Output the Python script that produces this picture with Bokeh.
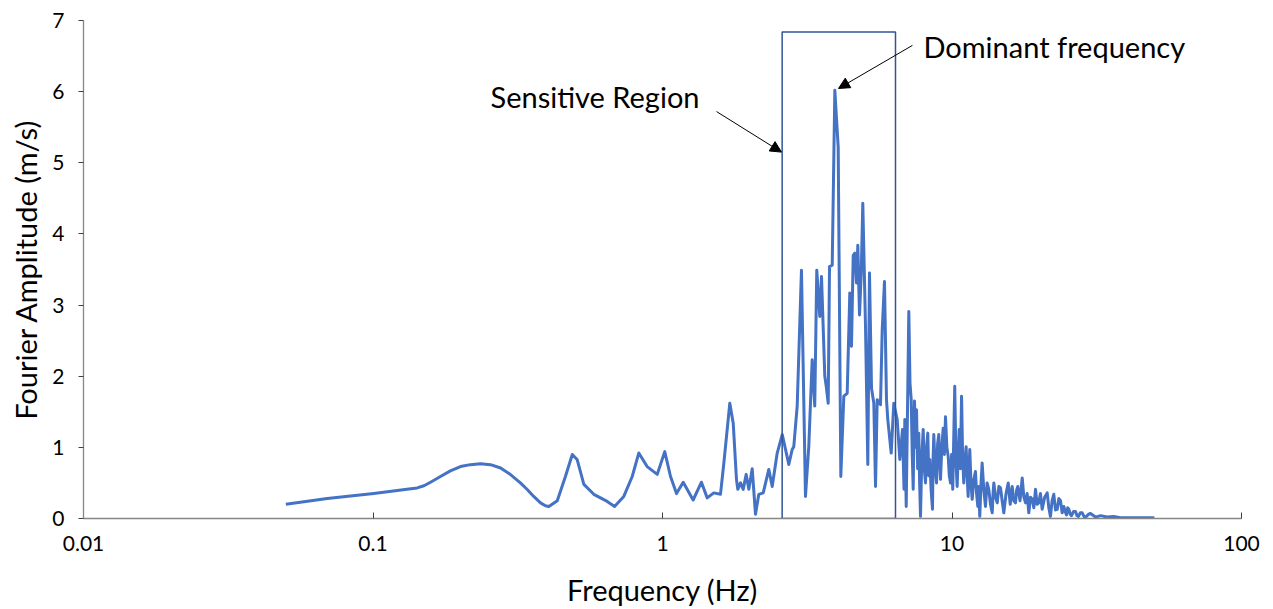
from bokeh.plotting import figure
from bokeh.models import (Range1d, FixedTicker, CustomJSTickFormatter, Label, Arrow,
                          NormalHead, ColumnDataSource)
from bokeh.embed import file_html
from bokeh.resources import INLINE

# ---- data ----
freq_hz = [0.050, 0.0695, 0.1006, 0.131, 0.1421, 0.150, 0.158, 0.171, 0.185, 0.2005,
           0.217, 0.235, 0.2546, 0.276, 0.2985, 0.323, 0.341, 0.359, 0.379, 0.394,
           0.405, 0.433, 0.462, 0.488, 0.507, 0.535, 0.579, 0.644,
           0.683, 0.735, 0.786, 0.828, 0.885, 0.959, 1.018, 1.066, 1.118, 1.179,
           1.276, 1.363, 1.427, 1.504, 1.586, 1.629, 1.708, 1.755, 1.801, 1.820,
           1.860, 1.900, 1.946, 1.987, 2.041, 2.095, 2.151, 2.228, 2.329, 2.393,
           2.490, 2.592, 2.731, 2.805, 2.841, 2.919, 3.020, 3.118, 3.201, 3.289,
           3.357, 3.411, 3.494, 3.542, 3.636, 3.677, 3.736, 3.775, 3.857, 3.938,
           4.045, 4.130, 4.230, 4.345, 4.436, 4.496, 4.558, 4.616, 4.679, 4.728,
           4.792, 4.858, 4.919, 5.026, 5.119, 5.188, 5.272, 5.370, 5.443, 5.516,
           5.662, 5.740, 5.845, 5.939, 6.001, 6.166, 6.294, 6.467, 6.603, 6.745,
           6.827, 6.871, 6.948,
           7.093, 7.16, 7.230, 7.29, 7.345, 7.38, 7.422, 7.48, 7.541, 7.61,
           7.679, 7.73, 7.784, 7.87, 7.953, 8.02, 8.100, 8.17, 8.249, 8.31,
           8.381, 8.47, 8.563, 8.60, 8.652, 8.75, 8.841, 8.92, 9.004, 9.06,
           9.127, 9.22, 9.325, 9.41, 9.496, 9.60, 9.703, 9.79, 9.881, 9.97,
           10.06, 10.22, 10.32, 10.42, 10.50, 10.59, 10.69, 10.79, 10.88, 10.98,
           11.08, 11.19, 11.28, 11.37, 11.45, 11.52, 11.63, 11.74, 11.90, 12.05,
           12.16, 12.28, 12.37, 12.47, 12.60, 12.71, 12.88, 13.05, 13.22, 13.40,
           13.58, 13.77, 13.86, 13.95, 14.14, 14.33, 14.52, 14.71, 14.90, 15.10,
           15.37, 15.64, 15.89, 16.14, 16.35, 16.57, 16.72, 16.88, 17.18, 17.48,
           17.71, 17.95, 18.18, 18.42, 18.67, 18.92, 19.17, 19.43, 19.68, 19.94,
           20.21, 20.49, 20.90, 21.32, 21.60, 21.88, 22.17, 22.47, 22.78, 23.09,
           23.40, 23.70, 24.02, 24.33, 24.60, 24.86, 25.10, 25.32, 25.60, 25.87,
           26.30, 26.71, 27.03, 27.35, 27.76, 28.17, 28.66, 29.15, 29.62, 30.09,
           31.31, 32.58, 34.36, 36.13, 38.19, 50.0]
amplitude = [0.20, 0.28, 0.35, 0.41, 0.43, 0.46, 0.51, 0.59, 0.67, 0.73,
             0.757, 0.77, 0.757, 0.71, 0.617, 0.50, 0.407, 0.31, 0.22, 0.18,
             0.17, 0.25, 0.59, 0.90, 0.83, 0.48, 0.34, 0.24,
             0.17, 0.31, 0.59, 0.92, 0.73, 0.62, 0.94, 0.59, 0.35, 0.51,
             0.26, 0.51, 0.29, 0.36, 0.34, 0.78, 1.62, 1.34, 0.55, 0.41,
             0.50, 0.41, 0.62, 0.41, 0.70, 0.06, 0.34, 0.36, 0.69, 0.45,
             0.92, 1.18, 0.76, 0.97, 1.01, 1.58, 3.49, 0.31, 1.01, 2.23,
             1.58, 3.49, 2.84, 3.40, 2.00, 1.86, 1.62, 3.54, 3.56, 6.02,
             5.22, 0.59, 1.72, 1.76, 3.17, 2.42, 3.70, 3.73, 3.31, 3.84,
             2.86, 3.45, 4.43, 2.70, 0.76, 3.45, 1.83, 1.62, 0.45, 1.67,
             1.60, 2.65, 3.33, 1.67, 1.39, 0.92, 1.62, 1.39, 0.83, 1.25,
             0.41, 1.39, 0.17,
             2.91, 1.90, 1.67, 0.90, 0.41, 1.10, 1.65, 1.00, 1.53, 0.70,
             1.20, 0.50, 0.03, 0.90, 1.25, 0.70, 0.50, 1.00, 1.20, 0.60,
             0.83, 0.40, 0.13, 0.80, 1.18, 0.70, 0.50, 1.05, 1.18, 0.80,
             0.55, 1.00, 1.27, 0.90, 1.43, 1.00, 0.87, 0.60, 0.50, 0.90,
             0.41, 1.86, 0.80, 0.45, 0.90, 1.25, 0.70, 1.72, 0.90, 0.50,
             0.80, 1.01, 0.60, 0.31, 0.70, 0.97, 0.50, 0.27, 0.55, 0.66,
             0.35, 0.17, 0.45, 0.03, 0.50, 0.78, 0.40, 0.17, 0.50, 0.41,
             0.20, 0.08, 0.35, 0.50, 0.30, 0.22, 0.45, 0.43, 0.25, 0.08,
             0.35, 0.50, 0.20, 0.45, 0.25, 0.22, 0.40, 0.45, 0.25, 0.57,
             0.30, 0.22, 0.35, 0.08, 0.30, 0.27, 0.15, 0.41, 0.20, 0.22,
             0.35, 0.13, 0.30, 0.36, 0.15, 0.03, 0.25, 0.34, 0.12, 0.13,
             0.28, 0.25, 0.08, 0.17, 0.10, 0.05, 0.15, 0.13, 0.06, 0.04,
             0.10, 0.10, 0.04, 0.03, 0.08, 0.08, 0.02, 0.03, 0.06, 0.07,
             0.02, 0.04, 0.02, 0.03, 0.01, 0.01]

x_ticks = [0.01, 0.1, 1, 10, 100]
y_ticks = [0, 1, 2, 3, 4, 5, 6, 7]

# sensitive region box (Hz, m/s)
region_left, region_right, region_top = 2.59, 6.38, 6.84

FONT = "Lato"

p = figure(width=1273, height=609, x_axis_type="log",
           x_range=Range1d(0.01, 100), y_range=Range1d(0, 7),
           output_backend="svg", toolbar_location=None,
           min_border_left=83, min_border_right=32, min_border_top=20,
           min_border_bottom=90)
p.outline_line_color = None
p.xgrid.visible = False
p.ygrid.visible = False
p.background_fill_color = "white"
p.border_fill_color = "white"

src = ColumnDataSource(dict(f=freq_hz, a=amplitude))
p.line("f", "a", source=src, line_color="#4472C4", line_width=3, line_join="round")

p.quad(left=[region_left], right=[region_right], bottom=[0], top=[region_top],
       fill_color=None, line_color="#2F5597", line_width=1.5)

# axes
p.xaxis.ticker = FixedTicker(ticks=x_ticks)
p.xaxis.formatter = CustomJSTickFormatter(code="return tick.toString();")
p.yaxis.ticker = FixedTicker(ticks=y_ticks)
for ax in (p.xaxis[0], p.yaxis[0]):
    ax.axis_line_color = "#868686"
    ax.axis_line_width = 1.3
    ax.major_tick_line_color = "#404040"
    ax.minor_tick_line_color = None
    ax.major_label_text_font = FONT
    ax.major_label_text_font_size = "21px"
    ax.major_label_text_color = "#000000"
    ax.axis_label_text_font = FONT
    ax.axis_label_text_font_size = "29px"
    ax.axis_label_text_font_style = "normal"
    ax.axis_label_text_color = "#000000"
p.xaxis.major_tick_in = 6
p.xaxis.major_tick_out = 0
p.yaxis.major_tick_in = 0
p.yaxis.major_tick_out = 5
p.xaxis.major_label_standoff = 17
p.yaxis.major_label_standoff = 14
p.xaxis.axis_label = "Frequency (Hz)"
p.yaxis.axis_label = "Fourier Amplitude (m/s)"
p.xaxis.axis_label_standoff = 18
p.yaxis.axis_label_standoff = 6

# annotations
p.add_layout(Label(x=0.2546, y=5.93, text="Sensitive Region", text_font=FONT,
                   text_font_size="29px", text_baseline="middle", text_align="left",
                   text_color="#000000"))
p.add_layout(Label(x=7.97, y=6.63, text="Dominant frequency", text_font=FONT,
                   text_font_size="29px", text_baseline="middle", text_align="left",
                   text_color="#000000"))
p.add_layout(Arrow(x_start=1.537, y_start=5.72, x_end=2.576, y_end=5.15,
                   line_color="black", line_width=1,
                   end=NormalHead(size=11, fill_color="black", line_color="black")))
p.add_layout(Arrow(x_start=7.30, y_start=6.65, x_end=4.055, y_end=6.045,
                   line_color="black", line_width=1,
                   end=NormalHead(size=11, fill_color="black", line_color="black")))

open("out.html", "w").write(file_html(p, INLINE))
